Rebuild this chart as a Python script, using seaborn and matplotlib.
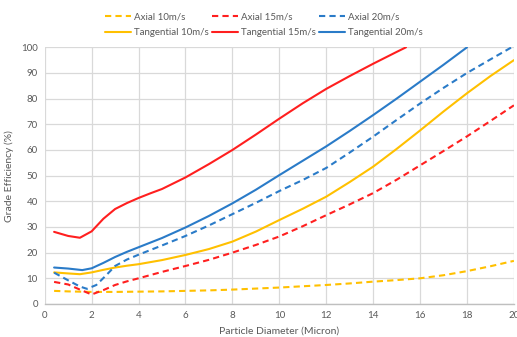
import matplotlib
matplotlib.use("Agg")
import matplotlib.pyplot as plt
import seaborn as sns
import pandas as pd

# Grade efficiency curves (particle diameter in micron, efficiency in %)
axial_10_x = [0.4, 1, 2, 3, 4, 5, 6, 7, 8, 9, 10, 11, 12, 13, 14, 15, 16, 17, 18, 19, 20]
axial_10_y = [5.1, 4.9, 4.7, 4.7, 4.8, 4.9, 5.1, 5.3, 5.6, 6.0, 6.4, 6.9, 7.4, 8.0, 8.7, 9.3, 10.0, 11.2, 12.8, 14.7, 16.8]

axial_15_x = [0.4, 1, 1.5, 2, 2.5, 3, 3.5, 4, 5, 6, 7, 8, 9, 10, 11, 12, 13, 14, 15, 16, 17, 18, 19, 20]
axial_15_y = [8.6, 7.6, 5.6, 3.7, 5.4, 7.4, 8.8, 10.0, 12.5, 14.8, 17.2, 20.0, 23.0, 26.3, 30.3, 34.6, 38.8, 43.2, 48.4, 54.0, 59.6, 65.3, 71.3, 77.4]

axial_20_x = [0.4, 1, 1.5, 1.8, 2.2, 2.6, 3, 3.5, 4, 4.5, 5, 6, 7, 8, 9, 10, 11, 12, 13, 14, 15, 16, 17, 18, 19, 19.9]
axial_20_y = [12.2, 9.2, 6.8, 5.9, 7.4, 11.0, 14.8, 17.3, 19.2, 21.0, 22.8, 26.5, 30.6, 35.0, 39.4, 44.0, 48.3, 53.0, 59.0, 65.2, 71.7, 78.1, 84.2, 90.0, 95.3, 100.0]

tang_10_x = [0.4, 1, 1.5, 2, 2.5, 3, 3.5, 4, 5, 6, 7, 8, 9, 10, 11, 12, 13, 14, 15, 16, 17, 18, 19, 20]
tang_10_y = [12.3, 11.9, 11.6, 12.3, 13.3, 14.2, 14.9, 15.5, 17.1, 19.1, 21.4, 24.3, 28.2, 32.7, 37.1, 41.8, 47.5, 53.5, 60.4, 67.6, 75.0, 82.1, 88.8, 95.0]

tang_15_x = [0.4, 1, 1.5, 2, 2.5, 3, 3.5, 4, 4.5, 5, 6, 7, 8, 9, 10, 11, 12, 13, 14, 15, 15.4]
tang_15_y = [28.1, 26.5, 25.8, 28.3, 33.2, 37.0, 39.3, 41.3, 43.1, 44.8, 49.3, 54.5, 60.0, 66.0, 72.2, 78.2, 83.8, 88.8, 93.6, 98.2, 100.0]

tang_20_x = [0.4, 1, 1.6, 2, 2.5, 3, 3.5, 4, 4.5, 5, 6, 7, 8, 9, 10, 11, 12, 13, 14, 15, 16, 17, 18]
tang_20_y = [14.2, 13.8, 13.2, 13.9, 16.0, 18.3, 20.3, 22.1, 23.9, 25.7, 29.8, 34.3, 39.2, 44.5, 50.2, 55.8, 61.4, 67.4, 73.6, 80.0, 86.6, 93.2, 100.0]

x_ticks = [0, 2, 4, 6, 8, 10, 12, 14, 16, 18, 20]
y_ticks = [0, 10, 20, 30, 40, 50, 60, 70, 80, 90, 100]

YELLOW = "#FFC000"
RED = "#FF1F1F"
BLUE = "#2A7BC8"

series = [
    ("Axial 10m/s", axial_10_x, axial_10_y, YELLOW, True),
    ("Tangential 10m/s", tang_10_x, tang_10_y, YELLOW, False),
    ("Axial 15m/s", axial_15_x, axial_15_y, RED, True),
    ("Tangential 15m/s", tang_15_x, tang_15_y, RED, False),
    ("Axial 20m/s", axial_20_x, axial_20_y, BLUE, True),
    ("Tangential 20m/s", tang_20_x, tang_20_y, BLUE, False),
]

sns.set_theme(style="white")
plt.rcParams["font.family"] = ["Lato", "DejaVu Sans"]

fig = plt.figure(figsize=(5.17, 3.37), dpi=100)
ax = fig.add_axes([0.0865, 0.098, 0.9075, 0.7616])

handles = []
for name, xs, ys, color, dashed in series:
    df = pd.DataFrame({"x": xs, "y": ys})
    sns.lineplot(data=df, x="x", y="y", ax=ax, color=color, linewidth=1.5,
                 sort=False, estimator=None, label=name)
    line = ax.get_lines()[-1]
    line.set_solid_joinstyle("round")
    line.set_dash_joinstyle("round")
    if dashed:
        line.set_dashes((3.0, 2.0))
    handles.append(line)

ax.set_xlim(0, 20)
ax.set_ylim(0, 100)
ax.set_xticks(x_ticks)
ax.set_yticks(y_ticks)
ax.grid(True, color="#D9D9D9", linewidth=0.9)
ax.set_axisbelow(True)
for side in ["top", "right", "left"]:
    ax.spines[side].set_visible(False)
ax.spines["bottom"].set_color("#BFBFBF")
ax.spines["bottom"].set_linewidth(1.0)

ax.tick_params(axis="both", labelsize=7, colors="#595959", length=0, pad=5)
ax.set_xlabel("Particle Diameter (Micron)", fontsize=7.5, color="#595959", labelpad=5)
ax.set_ylabel("Grade Efficiency (%)", fontsize=7.5, color="#595959", labelpad=5)

leg = fig.legend(handles=handles, labels=[s[0] for s in series], ncol=3,
                 loc="upper center", bbox_to_anchor=(0.51, 0.99), frameon=False,
                 fontsize=7, handlelength=2.7, handletextpad=0.25, columnspacing=0.35,
                 labelspacing=0.75)
for t in leg.get_texts():
    t.set_color("#595959")
if ax.get_legend() is not None:
    ax.get_legend().remove()

fig.savefig("out.png", dpi=100)
